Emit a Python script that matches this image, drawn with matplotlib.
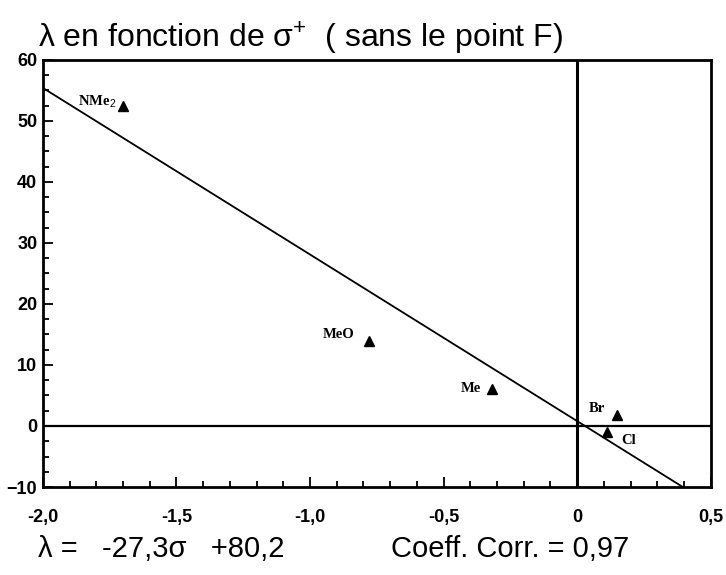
import matplotlib
matplotlib.use("Agg")
import matplotlib.pyplot as plt
import numpy as np
from matplotlib.ticker import MultipleLocator

plt.rcParams.update({
    "font.family": ["Liberation Sans", "DejaVu Sans"],
    "mathtext.fontset": "custom",
    "mathtext.rm": "Liberation Sans",
    "mathtext.sf": "Liberation Sans",
})

# substituents: sigma+ vs lambda
labels = ["NMe$_\\mathrm{2}$", "MeO", "Me", "Br", "Cl"]
sigma = [-1.70, -0.78, -0.32, 0.15, 0.11]
lam = [52.5, 14.0, 6.0, 1.8, -1.0]

# fitted line
slope = -27.3
intercept = 0.8
fit_x = [-2.0, 0.395]

# label offsets in pixels (dx, dy, ha)
offsets = [(-7, 4, "right"), (-14, 6, "right"), (-11, 1, "right"),
           (-12, 7, "right"), (15, -8, "left")]

xticks = [-2.0, -1.5, -1.0, -0.5, 0.0, 0.5]
xticklabels = ["-2,0", "-1,5", "-1,0", "-0,5", "0", "0,5"]
yticks = [-10, 0, 10, 20, 30, 40, 50, 60]

fig = plt.figure(figsize=(7.26, 5.75), dpi=100)
ax = fig.add_axes([0.059, 0.153, 0.92, 0.743])

ax.set_xlim(-2.0, 0.5)
ax.set_ylim(-10, 60)

fx = np.array(fit_x)
ax.plot(fx, slope * fx + intercept, color="black", lw=1.3)
ax.axvline(0, color="black", lw=2.2)
ax.axhline(0, color="black", lw=1.6)

ax.plot(sigma, lam, "^", color="black", ms=6.5, ls="none")
for name, x, y, (dx, dy, ha) in zip(labels, sigma, lam, offsets):
    ax.annotate(name, (x, y), xytext=(dx, dy), textcoords="offset pixels",
                ha=ha, va="center", fontsize=10.5, fontweight="bold",
                family="Liberation Serif")

for s in ax.spines.values():
    s.set_linewidth(2.0)

ax.set_xticks(xticks)
ax.set_xticklabels(xticklabels)
ax.set_yticks(yticks)
ax.xaxis.set_minor_locator(MultipleLocator(0.1))
ax.yaxis.set_minor_locator(MultipleLocator(2.5))
ax.tick_params(which="both", direction="in", top=False, right=False,
               width=1.3)
ax.tick_params(which="major", length=7, labelsize=13)
ax.tick_params(axis="x", which="major", pad=16)
ax.tick_params(axis="y", which="major", pad=4)
ax.tick_params(which="minor", length=4)
for t in ax.get_xticklabels() + ax.get_yticklabels():
    t.set_fontweight("bold")

fig.text(0.053, 0.934, r"λ en fonction de σ$^{\mathsf{+}}$  ( sans le point F)",
         fontsize=23, ha="left", va="center")
fig.text(0.053, 0.045, "λ =   -27,3σ   +80,2", fontsize=21, ha="left", va="center")
fig.text(0.539, 0.045, "Coeff. Corr. = 0,97", fontsize=21, ha="left", va="center")

fig.savefig("out.png", dpi=100)
